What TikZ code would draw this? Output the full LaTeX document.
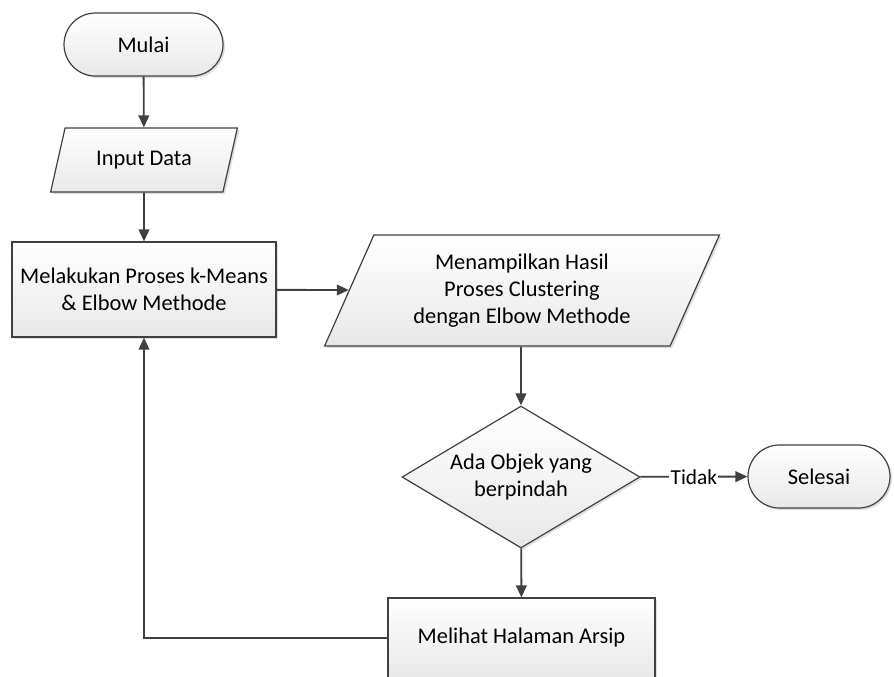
\documentclass[tikz,border=0pt]{standalone}
\usepackage{fontspec}
\setmainfont{Carlito}
\usetikzlibrary{shapes.geometric,shapes.misc,shadows,arrows.meta}
\definecolor{lineclr}{HTML}{404040}
\tikzset{
  box/.style={draw=lineclr, line width=0.9pt, top color=white, bottom color=black!9,
    drop shadow={opacity=0.25,shadow xshift=1.5pt,shadow yshift=-1.5pt},
    align=center, inner sep=0pt, font=\fontsize{16.8}{20.5}\selectfont},
  term/.style={box, rounded rectangle, minimum width=#1, minimum height=47.25pt},
  io/.style={box, trapezium, trapezium left angle=64, trapezium right angle=116,
    trapezium stretches=true},
  proc/.style={box, rectangle},
  decide/.style={box, diamond, aspect=1.7},
  flow/.style={draw=lineclr, line width=1.4pt, -{Triangle[length=9pt,width=8pt]}}
}
\begin{document}
\begin{tikzpicture}[x=0.75pt,y=-0.75pt]
  \path[use as bounding box, clip] (0,0) rectangle (894,676);
  \draw
    (143.5,44.5) node[term=119.25pt] (mulai){Mulai}
    (144,160) node[io, minimum width=141pt, minimum height=48pt] (input){Input Data}
    (144,289.5) node[proc, minimum width=198pt, minimum height=71.25pt] (proses){Melakukan Proses k-Means\\\& Elbow Methode}
    (522,290.5) node[io, minimum width=297pt, minimum height=83.25pt] (hasil){Menampilkan Hasil\\Proses Clustering\\dengan Elbow Methode}
    (521,477) node[decide, minimum width=178.5pt, minimum height=106.5pt] (cek){Ada Objek yang\\berpindah}
    (819,476.5) node[term=106.5pt] (selesai){Selesai}
    (521.5,638) node[proc, minimum width=200.25pt, minimum height=60pt] (arsip){Melihat Halaman Arsip};
  \begin{scope}[flow]
    \draw (mulai) to (input);
    \draw (input) to (proses);
    \draw (proses) to (hasil);
    \draw (hasil.south -| cek.north) to (cek);
    \draw (cek) to node[fill=white, inner sep=1pt, font=\fontsize{16}{20}\selectfont]{Tidak} (selesai);
    \draw (cek) to (arsip);
    \draw (arsip.west) -| (proses.south);
  \end{scope}
\end{tikzpicture}
\end{document}
